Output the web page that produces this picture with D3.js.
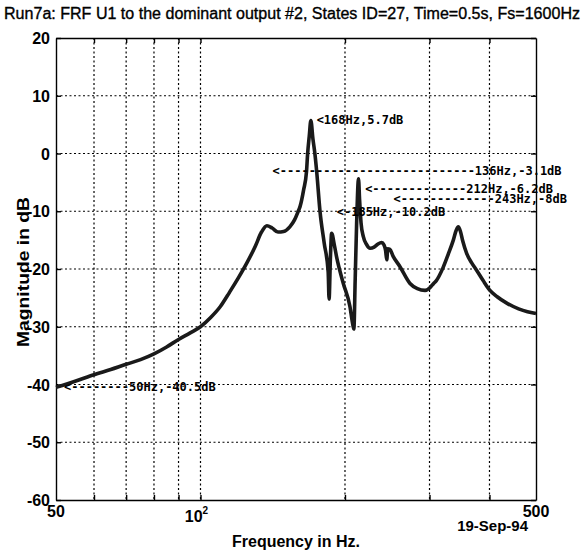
<!DOCTYPE html>
<html>
<head>
<meta charset="utf-8">
<script src="https://cdnjs.cloudflare.com/ajax/libs/d3/7.8.5/d3.min.js"></script>
<style>
  body { margin: 0; background: #fff; }
  svg { display: block; }
</style>
</head>
<body>
<div id="container"></div>
<script>
// FRF magnitude
const freqHz = [50, 55, 60, 65, 70, 75, 80, 85, 90, 95, 100, 105, 110, 115, 120, 125, 130, 134, 137.5,
  141, 145, 149, 153.5, 157, 159.8, 161.2, 164, 166.3, 167.2, 168.5, 169.8, 171.5, 173.1, 174.6,
  177.4, 181, 184.5, 185.3, 186.5, 187.6, 190, 192.2, 198.4, 204.8, 207.5, 208.7, 210, 211.5,
  213.4, 214.5, 216, 218.4, 222, 225.5, 230, 234, 238.5, 241, 243, 244.4, 245.5, 248, 252, 260.4,
  273.2, 283, 293.6, 300, 306, 310, 320, 328, 336.3, 341, 344.4, 348, 352, 358.5, 367, 376, 388,
  400, 415, 434.5, 460, 480, 500];
const magDb = [-40.5, -39.4, -38.3, -37.4, -36.5, -35.7, -34.7, -33.5, -32.2, -31.1, -30.0, -28.4,
  -26.5, -24.0, -21.5, -18.9, -16.1, -13.6, -12.5, -12.9, -13.6, -13.5, -12.7, -11.5, -10.0, -9.2,
  -6.3, -3.1, 0.0, 3.0, 5.7, 2.5, 0.0, -3.1, -10.0, -15.5, -20.5, -25.2, -18.0, -13.8, -15.8, -18.0,
  -22.5, -26.5, -29.5, -30.4, -22.0, -12.0, -4.4, -8.0, -12.0, -14.4, -15.8, -16.4, -16.2, -15.7,
  -15.4, -15.8, -16.8, -18.4, -16.5, -16.6, -17.8, -19.6, -22.5, -23.4, -23.7, -23.3, -22.5,
  -22.0, -19.8, -17.5, -15.0, -13.3, -12.7, -13.5, -15.2, -17.3, -18.9, -20.2, -22.0, -23.6,
  -24.8, -25.9, -26.9, -27.4, -27.7];

const yTicks = [20, 10, 0, -10, -20, -30, -40, -50, -60];
const xGrid = [60, 70, 80, 90, 100, 200, 300, 400];

// marker text put next to the curve
const markFreq = [168, 136, 212, 243, 185, 50];
const markDb = [5.7, -3.1, -6.2, -8, -10.2, -40.5];
const markText = [
  '<168Hz,5.7dB',
  '<---------------------------136Hz,-3.1dB',
  '<-------------212Hz,-6.2dB',
  '<-------------243Hz,-8dB',
  '<-185Hz,-10.2dB',
  '<--------50Hz,-40.5dB'
];

const titleText = 'Run7a: FRF U1 to the dominant output #2, States ID=27, Time=0.5s, Fs=1600Hz';
const dateText = '19-Sep-94';

const width = 584, height = 550;
const plot = { left: 56, right: 536, top: 38, bottom: 500 };
const labelFont = '"Liberation Sans", Arial, Helvetica, sans-serif';

const svg = d3.select('#container').append('svg')
  .attr('width', width)
  .attr('height', height);

const x = d3.scaleLog().domain([50, 500]).range([plot.left, plot.right]);
const y = d3.scaleLinear().domain([-60, 20]).range([plot.bottom, plot.top]);

/// grid (dotted, matlab style)
svg.append('g')
  .selectAll('line')
  .data(xGrid)
  .join('line')
  .attr('x1', d => x(d)).attr('x2', d => x(d))
  .attr('y1', plot.top).attr('y2', plot.bottom)
  .attr('stroke', '#000').attr('stroke-width', 1.2)
  .attr('stroke-dasharray', '2,2.5');

svg.append('g')
  .selectAll('line')
  .data(yTicks.filter(d => d > -60 && d < 20))
  .join('line')
  .attr('x1', plot.left).attr('x2', plot.right)
  .attr('y1', d => y(d)).attr('y2', d => y(d))
  .attr('stroke', '#000').attr('stroke-width', 1.2)
  .attr('stroke-dasharray', '2,2.5');

/// axes, inward ticks like matlab
const axisLeft = d3.axisLeft(y).tickValues(yTicks).tickSizeInner(-5).tickSizeOuter(0).tickFormat('');
const axisRight = d3.axisRight(y).tickValues(yTicks).tickSizeInner(-5).tickSizeOuter(0).tickFormat('');
const axisBottom = d3.axisBottom(x).tickValues(xGrid).tickSizeInner(-5).tickSizeOuter(0).tickFormat('');
const axisTop = d3.axisTop(x).tickValues(xGrid).tickSizeInner(-5).tickSizeOuter(0).tickFormat('');

svg.append('g').attr('transform', `translate(${plot.left},0)`).call(axisLeft);
svg.append('g').attr('transform', `translate(${plot.right},0)`).call(axisRight);
svg.append('g').attr('transform', `translate(0,${plot.bottom})`).call(axisBottom);
svg.append('g').attr('transform', `translate(0,${plot.top})`).call(axisTop);
svg.selectAll('.domain, .tick line').attr('stroke', '#000').attr('stroke-width', 1.4);

/// tick labels
svg.append('g')
  .selectAll('text')
  .data(yTicks)
  .join('text')
  .attr('x', plot.left - 6)
  .attr('y', d => y(d) + 6)
  .attr('text-anchor', 'end')
  .style('font-family', labelFont).style('font-size', '16px').style('font-weight', 'bold')
  .text(d => d);

const xLab = svg.append('g')
  .style('font-family', labelFont).style('font-size', '16px').style('font-weight', 'bold');
xLab.append('text').attr('x', x(50)).attr('y', plot.bottom + 17).attr('text-anchor', 'middle').text('50');
xLab.append('text').attr('x', x(500)).attr('y', plot.bottom + 17).attr('text-anchor', 'middle').text('500');
const pow = xLab.append('text').attr('x', x(100) - 4).attr('y', plot.bottom + 22).attr('text-anchor', 'middle');
pow.append('tspan').text('10');
pow.append('tspan').attr('dy', -8).style('font-size', '10px').text('2');

xLab.append('text')
  .attr('x', 528).attr('y', plot.bottom + 31)
  .attr('text-anchor', 'end')
  .style('font-size', '15px')
  .text(dateText);

/// axis titles
svg.append('text')
  .attr('x', (plot.left + plot.right) / 2).attr('y', 547)
  .attr('text-anchor', 'middle')
  .style('font-family', labelFont).style('font-size', '16px').style('font-weight', 'bold')
  .text('Frequency in Hz.');

svg.append('text')
  .attr('transform', `translate(29,${(plot.top + plot.bottom) / 2 + 3}) rotate(-90)`)
  .attr('text-anchor', 'middle')
  .attr('textLength', 150).attr('lengthAdjust', 'spacingAndGlyphs')
  .style('font-family', labelFont).style('font-size', '17px').style('font-weight', 'bold')
  .text('Magnitude in dB');

svg.append('text')
  .attr('x', 4).attr('y', 19)
  .attr('textLength', 576).attr('lengthAdjust', 'spacingAndGlyphs')
  .attr('stroke', '#000').attr('stroke-width', 0.35)
  .style('font-family', labelFont).style('font-size', '16px')
  .text(titleText);

/// curve
const line = d3.line()
  .x((d, i) => x(freqHz[i]))
  .y(d => y(d))
  .curve(d3.curveMonotoneX);

svg.append('path')
  .datum(magDb)
  .attr('d', line)
  .attr('fill', 'none')
  .attr('stroke', '#1a1a1a')
  .attr('stroke-width', 3.6)
  .attr('stroke-linejoin', 'round');

/// markers
svg.append('g')
  .selectAll('text')
  .data(markText)
  .join('text')
  .attr('x', (d, i) => x(markFreq[i]) + 8)
  .attr('y', (d, i) => y(markDb[i]))
  .attr('dominant-baseline', 'middle')
  .style('font-family', '"DejaVu Sans Mono", "Liberation Mono", monospace')
  .style('font-size', '12px')
  .style('font-weight', 'bold')
  .style('white-space', 'pre')
  .text(d => d);
</script>
</body>
</html>
